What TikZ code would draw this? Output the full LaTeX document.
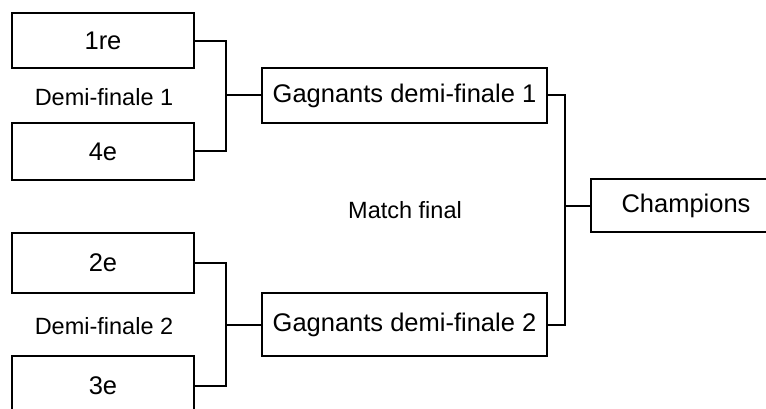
\documentclass[tikz,border=0pt]{standalone}
\usepackage{fontspec}
\setmainfont{Liberation Sans}
\begin{document}
\begin{tikzpicture}[x=1pt,y=-1pt,
  team/.style={draw=black, line width=2pt, rectangle, inner sep=0pt, font=\fontsize{25.5}{30}\selectfont},
  lbl/.style={inner sep=0pt, font=\fontsize{23.5}{28}\selectfont},
  conn/.style={draw=black, line width=2pt}]
\useasboundingbox (0,0) rectangle (766,409);
\clip (0,0) rectangle (766,409);
\fill[white] (0,0) rectangle (766,409);
\node[team, minimum width=182pt, minimum height=55pt] (r1) at (103,41) {1re};
\node[team, minimum width=182pt, minimum height=57pt] (r4) at (103,151.5) {4e};
\node[team, minimum width=182pt, minimum height=60pt] (r2) at (103,263) {2e};
\node[team, minimum width=182pt, minimum height=60pt] (r3) at (103,386) {3e};
\node[team, minimum width=285pt, minimum height=55pt] (g1) at (404.5,95.5) {Gagnants demi-finale 1};
\node[team, minimum width=285pt, minimum height=63pt] (g2) at (404.5,324.5) {Gagnants demi-finale 2};
\node[team, minimum width=190pt, minimum height=53pt, anchor=west] (ch) at (590,205.5) {Champions};
\node[lbl] (l1) at (104,97) {Demi-finale 1};
\node[lbl] (l2) at (104,326) {Demi-finale 2};
\node[lbl] (lf) at (405,210) {Match final};
\coordinate (j1) at (226,95.5);
\coordinate (j2) at (226,324.5);
\coordinate (j3) at (565,205.5);
\draw[conn] (r1.east) -| (j1) |- (r4.east);
\draw[conn] (j1) -- (g1.west);
\draw[conn] (r2.east) -| (j2) |- (r3.east);
\draw[conn] (j2) -- (g2.west);
\draw[conn] (g1.east) -| (j3) |- (g2.east);
\draw[conn] (j3) -- (ch.west);
\end{tikzpicture}
\end{document}
